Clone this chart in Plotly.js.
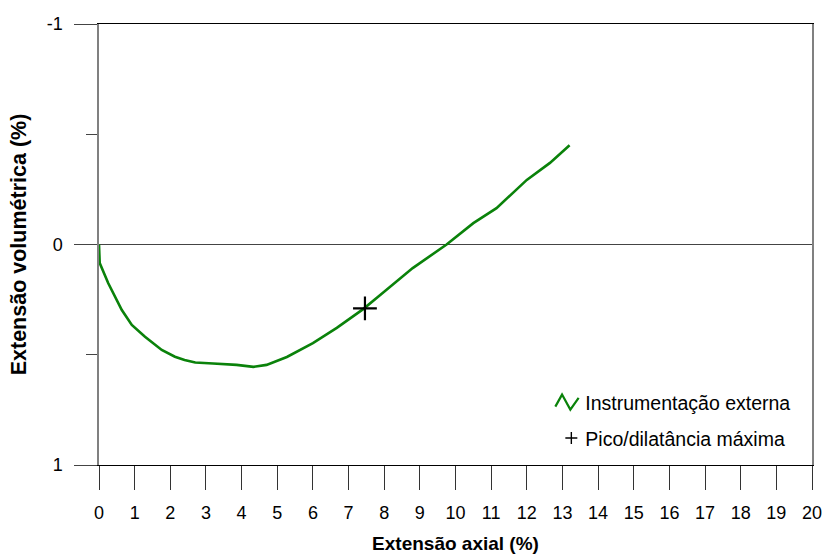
<!DOCTYPE html>
<html>
<head>
<meta charset="utf-8">
<script src="https://cdn.plot.ly/plotly-3.0.1.min.js"></script>
<style>
  html, body { margin: 0; padding: 0; background: #fff; }
  #chart { width: 823px; height: 554px; }
</style>
</head>
<body>
<div id="chart"></div>
<script>
// Axial strain (%) vs volumetric strain (%) — external instrumentation
const axialStrain = [0, 0.02, 0.26, 0.64, 0.92, 1.29, 1.76, 2.13, 2.4, 2.7, 3.2, 3.86, 4.33,
  4.7, 5.27, 6.0, 6.67, 7.41, 7.88, 8.8, 9.75, 10.5, 11.15, 11.6, 12.0, 12.65, 13.2];
const volumetricStrain = [0, 0.084, 0.176, 0.297, 0.365, 0.418, 0.478, 0.509, 0.524, 0.535,
  0.54, 0.546, 0.555, 0.546, 0.51, 0.447, 0.378, 0.293, 0.23, 0.107, 0.0, -0.097, -0.165,
  -0.234, -0.293, -0.37, -0.45];

// Peak / maximum dilatancy point
const peakAxial = [7.46];
const peakVolumetric = [0.29];

const xTickVals = [0, 1, 2, 3, 4, 5, 6, 7, 8, 9, 10, 11, 12, 13, 14, 15, 16, 17, 18, 19, 20];
const yTickVals = [-1, 0, 1];
const yTickText = ['-1', '0', '1'];
const yMinorVals = [-0.5, 0.5];

const seriesNames = ['Instrumentação externa', 'Pico/dilatância máxima'];

const FONT = '"Liberation Sans", Arial, Helvetica, sans-serif';

const traces = [
  {
    x: axialStrain,
    y: volumetricStrain,
    type: 'scatter',
    mode: 'lines',
    name: seriesNames[0],
    legendgroup: 'a',
    line: { color: '#0a820a', width: 2.6 },
    hoverinfo: 'x+y'
  },
  {
    x: peakAxial,
    y: peakVolumetric,
    type: 'scatter',
    mode: 'markers',
    name: seriesNames[1],
    legendgroup: 'b',
    marker: { symbol: 'cross-thin', size: 17, color: '#000', line: { color: '#000', width: 2.2 } },
    hoverinfo: 'x+y'
  }
];

const layout = {
  width: 823,
  height: 554,
  margin: { l: 99, r: 11, t: 24, b: 89, pad: 0 },
  paper_bgcolor: '#ffffff',
  plot_bgcolor: '#ffffff',
  font: { family: FONT, size: 18, color: '#000' },
  showlegend: true,
  legend: {
    x: 0.626, xanchor: 'left',
    y: 0.185, yanchor: 'top',
    bgcolor: 'rgba(0,0,0,0)',
    borderwidth: 0,
    font: { family: FONT, size: 19.5, color: '#000' },
    tracegroupgap: 7,
    itemwidth: 30
  },
  xaxis: {
    range: [0, 20],
    tickmode: 'array',
    tickvals: xTickVals,
    ticks: 'outside',
    ticklen: 24,
    tickwidth: 1,
    tickcolor: '#333',
    showgrid: false,
    zeroline: false,
    showline: true,
    linecolor: '#000',
    linewidth: 1.3,
    mirror: true,
    tickfont: { family: FONT, size: 18, color: '#000' },
    ticklabelstandoff: 7,
    title: { text: '<b>Extensão axial (%)</b>', font: { family: FONT, size: 19, color: '#000' }, standoff: 17 },
    fixedrange: true
  },
  yaxis: {
    range: [1, -1],
    tickmode: 'array',
    tickvals: yTickVals,
    ticktext: yTickText,
    ticks: 'outside',
    ticklen: 23,
    tickwidth: 1,
    tickcolor: '#444',
    minor: { tickmode: 'array', tickvals: yMinorVals, ticks: 'outside', ticklen: 11, tickwidth: 1, tickcolor: '#444', showgrid: false },
    showgrid: false,
    zeroline: true,
    zerolinecolor: '#444',
    zerolinewidth: 1,
    showline: true,
    linecolor: '#808080',
    linewidth: 1.6,
    mirror: true,
    tickfont: { family: FONT, size: 18, color: '#000' },
    ticklabelstandoff: 8,
    title: { text: '<b>Extensão volumétrica (%)</b>', font: { family: FONT, size: 21.5, color: '#000' }, standoff: 14 },
    fixedrange: true
  }
};

Plotly.newPlot('chart', traces, layout, { displayModeBar: false, staticPlot: true }).then(function (gd) {
  // Legend symbols: small zigzag for the curve, thin plus for the peak
  gd.querySelectorAll('.legendlines path').forEach(function (p) {
    p.setAttribute('d', 'M10,4L16.7,-8L25,7L33.3,-4.7');
    p.style.strokeWidth = '2.2px';
  });
  gd.querySelectorAll('.legendpoints path').forEach(function (p) {
    p.setAttribute('d', 'M0,-6V6M-6,0H6');
    p.setAttribute('transform', 'translate(26,0)');
    p.style.strokeWidth = '1.4px';
  });
});
</script>
</body>
</html>
